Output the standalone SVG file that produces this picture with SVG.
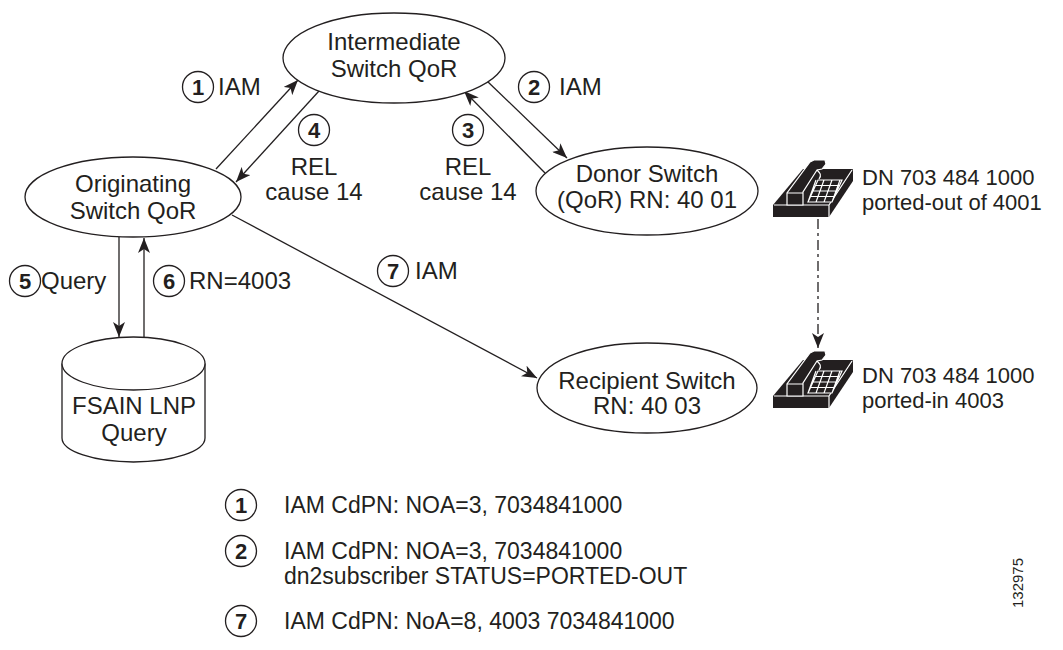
<svg xmlns="http://www.w3.org/2000/svg" xmlns:xlink="http://www.w3.org/1999/xlink" width="1063" height="650" viewBox="0 0 1063 650">
<style>
  .node { fill: #fff; stroke: #231f20; stroke-width: 1.3; }
  .lbl { font-family: "Liberation Sans", Arial, sans-serif; font-size: 24px; fill: #231f20; }
  .ctr { text-anchor: middle; }
  .num { font-family: "Liberation Sans", Arial, sans-serif; font-size: 22px; font-weight: bold; fill: #231f20; text-anchor: middle; }
  .circ { fill: #fff; stroke: #231f20; stroke-width: 1.3; }
  .leg { font-family: "Liberation Sans", Arial, sans-serif; font-size: 23px; fill: #231f20; }
  .ph { font-family: "Liberation Sans", Arial, sans-serif; font-size: 22px; fill: #231f20; }
  .conn { stroke: #231f20; stroke-width: 1.3; fill: none; marker-end: url(#arr); }
  .dash { stroke: #231f20; stroke-width: 1.3; fill: none; stroke-dasharray: 10 4 3 4; marker-end: url(#arr); }
  .w { stroke: #fff; stroke-width: 1.2; fill: none; }
</style>
<defs>
  <marker id="arr" markerUnits="userSpaceOnUse" markerWidth="16" markerHeight="12" refX="15" refY="6" orient="auto">
    <path d="M0,0 L15,6 L0,12 L4,6 z" fill="#231f20"/>
  </marker>
  <g id="phone">
    <polygon points="0,45 56,45 80,9 30,9" fill="#231f20"/>
    <polygon points="56,45 80,9 80,21 56,57" fill="#231f20"/>
    <rect x="0" y="45" width="56" height="12" fill="#231f20"/>
    <path class="w" d="M1,45 H56 L79,10 M56,45 V57"/>
    <path d="M35,42 L59,42 L69,20 L45,20 Z" fill="#231f20"/>
    <path class="w" d="M35,42 L59,42 L69,20 L45,20 Z M37.5,36.5 H61.5 M40,31 H64 M42.5,25.5 H66.5 M43,20 L35,42 M51,20 L43,42 M59,20 L51,42 M67,20 L59,42"/>
    <polygon points="14,45 14,33 37,2 41,0 52,0 53,4 49,9 44,10 30,32 30,45" fill="#231f20" stroke="#fff" stroke-width="1.2"/>
    <path class="w" d="M14,33 H30 M44,10 C47,13 49,15 46,19"/>
  </g>
</defs>
<rect width="1063" height="650" fill="#fff"/>

<g id="connectors">
  <line class="conn" x1="216" y1="169" x2="298" y2="80"/>
  <line class="conn" x1="319" y1="91" x2="236" y2="182"/>
  <line class="conn" x1="487" y1="81" x2="567" y2="158"/>
  <line class="conn" x1="545" y1="173" x2="464" y2="91"/>
  <line class="conn" x1="119" y1="237" x2="119" y2="337"/>
  <line class="conn" x1="144" y1="337" x2="144" y2="238"/>
  <line class="conn" x1="232" y1="215" x2="537" y2="378"/>
  <line class="dash" x1="818" y1="219" x2="818" y2="348"/>
</g>

<g id="intermediate">
  <ellipse class="node" cx="394" cy="58" rx="111" ry="45"/>
  <text class="lbl ctr" x="394" y="50">Intermediate</text>
  <text class="lbl ctr" x="394" y="77">Switch QoR</text>
</g>
<g id="originating">
  <ellipse class="node" cx="133" cy="197" rx="108" ry="40"/>
  <text class="lbl ctr" x="133" y="192">Originating</text>
  <text class="lbl ctr" x="133" y="219">Switch QoR</text>
</g>
<g id="donor">
  <ellipse class="node" cx="647" cy="191" rx="111" ry="44"/>
  <text class="lbl ctr" x="647" y="182">Donor Switch</text>
  <text class="lbl ctr" x="647" y="208">(QoR) RN: 40 01</text>
</g>
<g id="recipient">
  <ellipse class="node" cx="647" cy="388" rx="110" ry="45"/>
  <text class="lbl ctr" x="647" y="389">Recipient Switch</text>
  <text class="lbl ctr" x="647" y="414">RN: 40 03</text>
</g>
<g id="lnpdb">
  <path class="node" d="M62,363.5 L62,438 A71.5,24 0 0 0 205,438 L205,363.5"/>
  <ellipse class="node" cx="133.5" cy="363.5" rx="71.5" ry="26.5"/>
  <text class="lbl ctr" x="134" y="414">FSAIN LNP</text>
  <text class="lbl ctr" x="134" y="441">Query</text>
</g>
<g id="phone-out">
  <use xlink:href="#phone" x="773" y="160"/>
  <text class="ph" x="862" y="185">DN 703 484 1000</text>
  <text class="ph" x="862" y="210">ported-out of 4001</text>
</g>
<g id="phone-in">
  <use xlink:href="#phone" x="773" y="351"/>
  <text class="ph" x="862" y="383">DN 703 484 1000</text>
  <text class="ph" x="862" y="408">ported-in 4003</text>
</g>

<g id="labels">
  <circle class="circ" cx="198" cy="87" r="15.5"/><text class="num" x="198" y="95">1</text>
  <text class="lbl" x="218" y="95">IAM</text>
  <circle class="circ" cx="534" cy="87" r="15.5"/><text class="num" x="534" y="95">2</text>
  <text class="lbl" x="559" y="95">IAM</text>
  <circle class="circ" cx="314" cy="130" r="15.5"/><text class="num" x="314" y="138">4</text>
  <text class="lbl ctr" x="314" y="175">REL</text>
  <text class="lbl ctr" x="314" y="200">cause 14</text>
  <circle class="circ" cx="468" cy="130" r="15.5"/><text class="num" x="468" y="138">3</text>
  <text class="lbl ctr" x="468" y="175">REL</text>
  <text class="lbl ctr" x="468" y="200">cause 14</text>
  <circle class="circ" cx="25" cy="281" r="15.5"/><text class="num" x="25" y="289">5</text>
  <text class="lbl" x="41" y="289">Query</text>
  <circle class="circ" cx="169" cy="281" r="15.5"/><text class="num" x="169" y="289">6</text>
  <text class="lbl" x="189" y="289">RN=4003</text>
  <circle class="circ" cx="393" cy="271" r="15.5"/><text class="num" x="393" y="279">7</text>
  <text class="lbl" x="415" y="279">IAM</text>
</g>

<g id="legend">
  <circle class="circ" cx="241" cy="505" r="15.5"/><text class="num" x="241" y="513">1</text>
  <text class="leg" x="284" y="513">IAM CdPN: NOA=3, 7034841000</text>
  <circle class="circ" cx="241" cy="551" r="15.5"/><text class="num" x="241" y="559">2</text>
  <text class="leg" x="284" y="559">IAM CdPN: NOA=3, 7034841000</text>
  <text class="leg" x="284" y="584">dn2subscriber STATUS=PORTED-OUT</text>
  <circle class="circ" cx="241" cy="621" r="15.5"/><text class="num" x="241" y="629">7</text>
  <text class="leg" x="284" y="629">IAM CdPN: NoA=8, 4003 7034841000</text>
</g>

<text font-family="Liberation Sans, Arial, sans-serif" font-size="15" fill="#231f20" text-anchor="middle" transform="translate(1023,583) rotate(-90)">132975</text>
</svg>
